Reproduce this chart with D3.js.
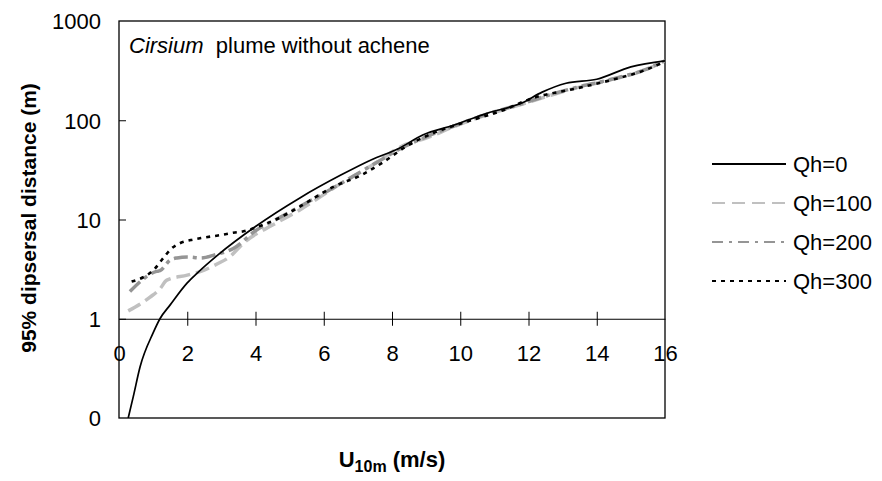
<!DOCTYPE html>
<html><head><meta charset="utf-8">
<script src="https://cdn.jsdelivr.net/npm/d3@7/dist/d3.min.js"></script>
<style>body{margin:0;background:#fff;} text{font-family:Arial,"Liberation Sans",sans-serif;}</style>
</head><body>
<svg id="chart" width="882" height="481"></svg>
<script>
const xTicks = [0,2,4,6,8,10,12,14,16];
const yTicks = [0.1,1,10,100,1000];
const yTickLabels = ["0","1","10","100","1000"];
const seriesNames = ["Qh=0","Qh=100","Qh=200","Qh=300"];

const u0 = [0.27,0.42,0.62,1.0,1.2,1.5,2.0,2.3,2.9,4.0,5.3,6.5,7.4,8.2,8.9,9.8,10.8,11.8,12.4,13.1,14.0,15.0,16.0];
const v0 = [0.1,0.165,0.33,0.72,1.0,1.38,2.3,2.9,4.4,8.5,16.5,28,40,52,71,89,118,149,192,236,259,345,396];

const u100 = [0.27,0.91,1.2,1.4,2.0,2.4,2.9,3.2,3.7,4.5,5.3,6.5,7.4,8.4,9.0,9.8,10.8,11.8,12.5,13.4,14.4,15.4,16.0];
const v100 = [1.2,1.65,2.0,2.45,2.75,3.0,3.6,4.1,6.0,8.8,12.5,23,35,57,66,86,114,145,172,212,255,320,395];

const u200 = [0.32,1.1,1.2,1.5,1.7,2.0,2.4,2.8,3.35,4.0,4.6,5.3,6.5,7.4,8.4,9.0,9.8,10.8,11.8,12.5,13.4,14.4,15.4,16.0];
const v200 = [1.88,3.0,3.05,3.9,4.1,4.2,4.1,4.4,5.1,7.7,10,13.5,23,35,55,68,87,116,146,175,214,257,322,398];

const u300 = [0.37,1.05,1.3,1.54,1.8,2.1,2.4,2.9,3.4,3.65,4.05,4.35,4.6,5.3,6.3,7.1,7.7,8.4,9.2,10.2,11.2,12.1,13.4,14.4,15.4,16.0];
const v300 = [2.37,3.2,4.1,5.1,5.8,6.2,6.5,6.9,7.4,7.6,8.4,9.2,10,13.5,21.5,28,37,54,74,97,124,166,209,253,319,390];

const svg = d3.select("#chart");
const L = 119, R = 665, T = 21, B = 418;
const x = d3.scaleLinear().domain([0,16]).range([L,R]);
const y = d3.scaleLog().domain([0.1,1000]).range([B,T]);

// plot border
svg.append("rect").attr("x",L).attr("y",T).attr("width",R-L).attr("height",B-T)
  .attr("fill","none").attr("stroke","#000").attr("stroke-width",1.3);

// x axis at y=1
const xAxis = d3.axisBottom(x).tickValues(xTicks).tickSize(0).tickFormat(d3.format("d"));
const gx = svg.append("g").attr("transform",`translate(0,${y(1)})`).call(xAxis);
gx.select(".domain").attr("stroke","#000").attr("stroke-width",1);
gx.selectAll(".tick text").attr("font-size",22).attr("fill","#000").attr("dy",0).attr("y",42);
gx.selectAll(".tick").filter(d=>d>0&&d<16).append("line").attr("y1",-7).attr("y2",7).attr("stroke","#000");

// y axis
const yAxis = d3.axisLeft(y).tickValues(yTicks).tickSize(0).tickFormat((d,i)=>yTickLabels[i]);
const gy = svg.append("g").attr("transform",`translate(${L},0)`).call(yAxis);
gy.select(".domain").remove();
gy.selectAll(".tick text").attr("font-size",22).attr("fill","#000").attr("x",-18).attr("dy","0.36em");
gy.selectAll(".tick").filter(d=>d>0.1&&d<1000).append("line").attr("x1",0).attr("x2",7).attr("stroke","#000");

const styles = [
  {color:"#000", w:1.7, dash:null, lw:2},
  {color:"#c0c0c0", w:3.5, dash:"14,6", lw:2.2},
  {color:"#959595", w:3.5, dash:"14,5,4,5", lw:2.2},
  {color:"#000", w:2.6, dash:"4,5", lw:2.2}
];
const datasets = [[u0,v0],[u100,v100],[u200,v200],[u300,v300]];
const line = d3.line().x(d=>x(d[0])).y(d=>y(d[1])).curve(d3.curveMonotoneX);

const clip = svg.append("clipPath").attr("id","pc").append("rect")
  .attr("x",L).attr("y",T).attr("width",R-L).attr("height",B-T);

const order = [1,2,3,0];
order.forEach(i=>{
  const [us,vs] = datasets[i];
  const pts = us.map((u,k)=>[u,vs[k]]);
  svg.append("path").datum(pts).attr("d",line).attr("fill","none")
    .attr("clip-path","url(#pc)")
    .attr("stroke",styles[i].color).attr("stroke-width",styles[i].w)
    .attr("stroke-dasharray",styles[i].dash);
});

// annotation
const ann = svg.append("text").attr("x",129).attr("y",53).attr("font-size",22).attr("fill","#000");
ann.append("tspan").attr("font-style","italic").text("Cirsium");
ann.append("tspan").text("\u00a0 plume without achene");

// legend
const legY = [164,203,242,281];
seriesNames.forEach((n,i)=>{
  svg.append("line").attr("x1",712).attr("x2",786).attr("y1",legY[i]).attr("y2",legY[i])
    .attr("stroke",styles[i].color).attr("stroke-width",styles[i].lw)
    .attr("stroke-dasharray",i===0?null:(i===1?"13,7":(i===2?"11,6,3,6":"4,5")));
  svg.append("text").attr("x",793).attr("y",legY[i]).attr("dy","0.36em").attr("font-size",22).attr("fill","#000").text(n);
});

// axis titles
svg.append("text").attr("transform","translate(36,218) rotate(-90)").attr("text-anchor","middle")
  .attr("font-size",21).attr("font-weight","bold").attr("fill","#000").text("95% dipsersal distance (m)");
const xt = svg.append("text").attr("x",392).attr("y",467).attr("text-anchor","middle")
  .attr("font-size",22).attr("font-weight","bold").attr("fill","#000");
xt.append("tspan").text("U");
xt.append("tspan").attr("font-size",16).attr("dy",5).text("10m");
xt.append("tspan").attr("dy",-5).text(" (m/s)");
</script>
</body></html>
